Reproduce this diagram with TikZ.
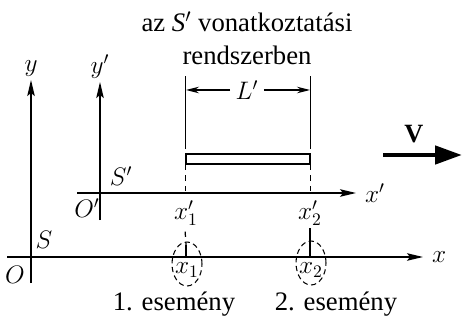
\documentclass[tikz,border=0pt]{standalone}
\usepackage{fontspec}
\setmainfont{Liberation Serif}
\newfontfamily\figserif{Liberation Serif}
\usetikzlibrary{arrows.meta,positioning,shapes.geometric}
\tikzset{
  fr/axis/.style={line width=0.8pt, -{Stealth[length=3.2mm, width=1.5mm, inset=0.6mm]}},
  fr/label/.style={font=\fontsize{14}{16}\selectfont, inner sep=1pt},
  fr/text/.style={font=\figserif\fontsize{15.2}{18.5}\selectfont, align=center, inner sep=0pt},
  fr/rod/.style={draw, line width=1pt},
  fr/ext/.style={line width=0.7pt},
  fr/dim/.style={line width=0.7pt, -{Stealth[length=2.6mm, width=1.3mm]}},
  fr/guide/.style={line width=0.7pt, dashed, dash pattern=on 3pt off 3pt},
  fr/event/.style={draw, ellipse, dashed, dash pattern=on 3pt off 2pt, line width=0.6pt, minimum width=6mm, minimum height=8.8mm, inner sep=0pt},
  fr/vel/.style={line width=2.6pt, -{Triangle[length=5.4mm, width=3.6mm]}}
}
\begin{document}
\begin{tikzpicture}[x=0.02cm, y=-0.02cm]
  \useasboundingbox (0,0) rectangle (462,320);
  % S rendszer
  \coordinate (ybot) at (31,283);
  \coordinate (ytip) at (31,80);
  \coordinate (xbeg) at (7,257);
  \coordinate (xtip) at (423,257);
  \draw[fr/axis] (ybot) -- (ytip);
  \draw[fr/axis] (xbeg) -- (xtip);
  \node[fr/label, above=1pt of ytip] (ylab) {$y$};
  \node[fr/label, right=4pt of xtip] (xlab) {$x$};
  \node[fr/label] (olab) at (15,275) {$O$};
  \node[fr/label] (slab) at (44,240) {$S$};
  % S' rendszer
  \coordinate (ypbot) at (100,220);
  \coordinate (yptip) at (100,82);
  \coordinate (xpbeg) at (77,193);
  \coordinate (xptip) at (356,193);
  \draw[fr/axis] (ypbot) -- (yptip);
  \draw[fr/axis] (xpbeg) -- (xptip);
  \node[fr/label, above=1pt of yptip] (yplab) {$y'$};
  \node[fr/label, right=4pt of xptip] (xplab) {$x'$};
  \node[fr/label] (oplab) at (87,208) {$O'$};
  \node[fr/label] (splab) at (121,176) {$S'$};
  % rud
  \node[fr/rod, minimum width=2.48cm, minimum height=0.2cm, inner sep=0pt] (rod) at (248,159) {};
  \draw[fr/ext] (rod.north west) ++(0,-4) -- ++(0,-73) coordinate (lw);
  \draw[fr/ext] (rod.north east) ++(0,-4) -- ++(0,-73) coordinate (rw);
  \node[fr/label, fill=white, inner xsep=3pt] (llab) at (247,90) {$L'$};
  \draw[fr/dim] (llab.west) -- (186,90);
  \draw[fr/dim] (llab.east) -- (310,90);
  \node[fr/text] (title) at (247,38) {az \textit{S}$'$ vonatkoztatási\\rendszerben};
  % esemenyek
  \node[fr/label] (xp1) at (186,213) {$x'_1$};
  \node[fr/label] (xp2) at (310,213) {$x'_2$};
  \draw[fr/guide] (rod.south west) -- (rod.south west |- xpbeg);
  \draw[fr/guide] (rod.south east) -- (rod.south east |- xpbeg);
  \node[fr/event] (ev1) at (187,264) {};
  \node[fr/event] (ev2) at (311,263) {};
  \node[fr/label] (x1) at (187,270) {$x_1$};
  \node[fr/label] (x2) at (311,270) {$x_2$};
  \draw[fr/guide] (xp1.south -| rod.south west) ++(0,4) -- (186,245);
  \draw[fr/ext] (186,245) -- (186,257);
  \draw[fr/ext] (310,228) -- (310,257);
  \node[fr/text] (ev1lab) at (174,304) {1. esemény};
  \node[fr/text] (ev2lab) at (336,304) {2. esemény};
  % sebesseg
  \coordinate (vbeg) at (383,155);
  \coordinate (vend) at (462,155);
  \draw[fr/vel] (vbeg) -- (vend);
  \node[fr/label, font=\figserif\fontsize{15}{17}\selectfont\bfseries] (vlab) at (414,134) {V};
\end{tikzpicture}
\end{document}
